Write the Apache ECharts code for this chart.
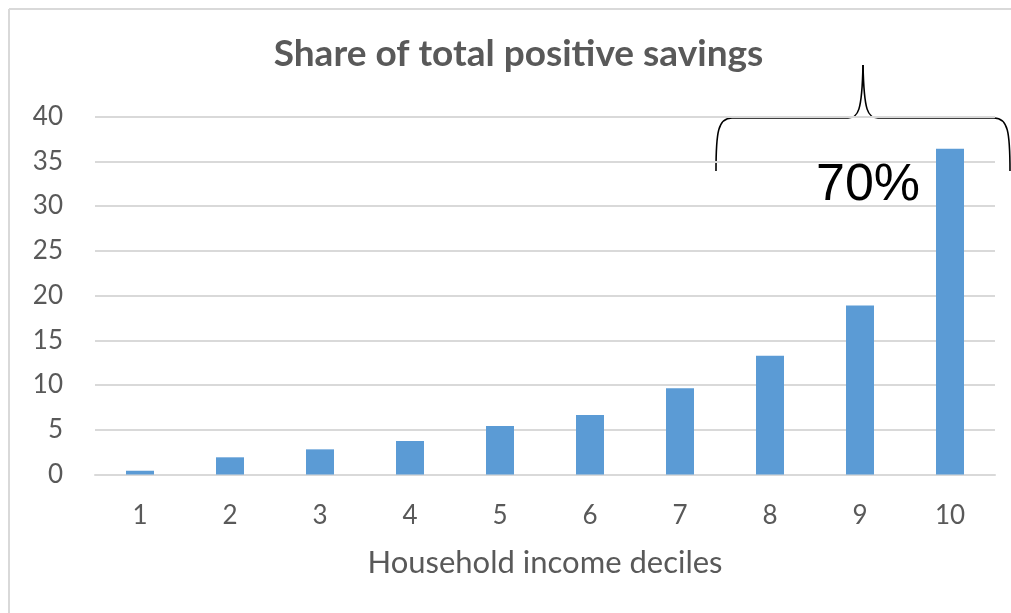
<!DOCTYPE html>
<html>
<head>
<meta charset="utf-8">
<script src="https://cdn.jsdelivr.net/npm/echarts@6/dist/echarts.min.js"></script>
<style>
html,body{margin:0;padding:0;background:#fff;}
#chart{width:1011px;height:613px;}
</style>
</head>
<body>
<div id="chart"></div>
<script>
const categories = ['1','2','3','4','5','6','7','8','9','10'];
const shareValues = [0.42, 1.92, 2.81, 3.74, 5.41, 6.64, 9.65, 13.26, 18.88, 36.4];
const yTicks = [0, 5, 10, 15, 20, 25, 30, 35, 40];
const titleText = 'Share of total positive savings';
const xAxisName = 'Household income deciles';
const annotationText = '70%';

const chart = echarts.init(document.getElementById('chart'), null, {renderer: 'canvas'});
const labelColor = '#595959';
const gridColor = '#d9d9d9';
const font = 'Lato, "Open Sans", sans-serif';
const braceStyle = {stroke: '#000', lineWidth: 1.6, fill: null};

function bez(x1, y1, cx1, cy1, cx2, cy2, x2, y2) {
  return {type: 'bezierCurve', shape: {x1: x1, y1: y1, cpx1: cx1, cpy1: cy1, cpx2: cx2, cpy2: cy2, x2: x2, y2: y2}, style: braceStyle, silent: true};
}
function seg(x1, y1, x2, y2, style) {
  return {type: 'line', shape: {x1: x1, y1: y1, x2: x2, y2: y2}, style: style, silent: true};
}

chart.setOption({
  animation: false,
  backgroundColor: '#fff',
  grid: {left: 95, right: 16, top: 116.5, bottom: 138.5, containLabel: false},
  xAxis: {
    type: 'category',
    data: categories,
    boundaryGap: true,
    axisLine: {show: true, lineStyle: {color: gridColor, width: 2}},
    axisTick: {show: false},
    axisLabel: {color: labelColor, fontFamily: font, fontSize: 26, margin: 28},
    name: xAxisName,
    nameLocation: 'middle',
    nameGap: 73,
    nameTextStyle: {color: labelColor, fontFamily: font, fontSize: 31}
  },
  yAxis: {
    type: 'value',
    min: yTicks[0],
    max: yTicks[yTicks.length - 1],
    interval: yTicks[1] - yTicks[0],
    axisLine: {show: false},
    axisTick: {show: false},
    splitLine: {show: true, lineStyle: {color: gridColor, width: 2}},
    axisLabel: {color: labelColor, fontFamily: font, fontSize: 26, margin: 32}
  },
  series: [{
    type: 'bar',
    data: shareValues,
    barWidth: 28,
    itemStyle: {color: '#5b9bd5'},
    silent: true
  }],
  graphic: [
    seg(9, 9, 1011, 9, {stroke: gridColor, lineWidth: 2}),
    seg(9, 9, 9, 613, {stroke: gridColor, lineWidth: 2}),
    {type: 'text', x: 518.5, y: 54, style: {text: titleText, fill: labelColor, font: 'bold 37px ' + font, textAlign: 'center', textVerticalAlign: 'middle'}, silent: true},
    bez(716, 171, 716, 132, 718, 118, 732, 118),
    seg(732, 118, 848, 118, braceStyle),
    bez(848, 118, 858, 118, 862, 112, 863, 65),
    bez(863, 65, 864, 112, 868, 118, 878, 118),
    seg(878, 118, 994, 118, braceStyle),
    bez(994, 118, 1008, 118, 1010, 132, 1010, 171),
    {type: 'text', x: 816, y: 186, style: {text: annotationText, fill: '#000', font: '52px "Liberation Sans", Arial, sans-serif', textAlign: 'left', textVerticalAlign: 'middle'}, silent: true}
  ]
});
</script>
</body>
</html>
